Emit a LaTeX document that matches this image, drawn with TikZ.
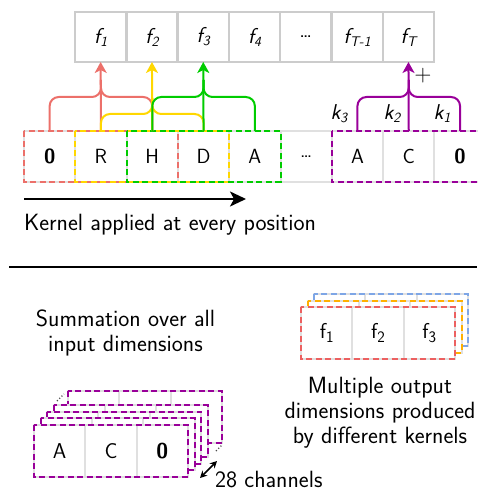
\documentclass[tikz,border=0pt]{standalone}
\usetikzlibrary{arrows.meta}
\definecolor{cred}{RGB}{236,112,106}
\definecolor{cyel}{RGB}{255,215,0}
\definecolor{cgrn}{RGB}{0,204,0}
\definecolor{cpur}{RGB}{153,0,153}
\definecolor{corg}{RGB}{255,176,0}
\definecolor{cblu}{RGB}{126,166,230}
\definecolor{bred}{RGB}{236,96,96}
\definecolor{cgray}{RGB}{224,224,224}
\definecolor{ogray}{RGB}{204,204,204}
\newcommand\fl[1]{\itshape f\raisebox{-3pt}{\fontsize{14}{14}\selectfont #1}}
\newcommand\kl[1]{\itshape k\raisebox{-3pt}{\fontsize{14}{14}\selectfont #1}}
\newcommand\fb[1]{f\raisebox{-4.5pt}{\fontsize{16}{16}\selectfont #1}}
\newcommand\layerbox[3]{%
  \fill[white] (#1,#2) rectangle ++(154,52);
  \draw[cgray,line width=2pt] (#1,#2) rectangle ++(154,52);
  \draw[cgray,line width=2pt] (#1+51.33,#2) -- ++(0,52) (#1+102.67,#2) -- ++(0,52);
  \draw[kbox,#3] (#1,#2) rectangle ++(154,52);}
\newcommand\kbrace[6]{%
  \draw[brace,#1] (#2.north) -- (#2.north |- #6) -- (#3.north |- #6) -- (#3.north |- #5);
  \draw[brace,#1] (#4.north) -- (#4.north |- #6) -- (#3.north |- #6) -- (#3.north |- #5);}
\begin{document}
\begin{tikzpicture}[x=1pt,y=-1pt,
  every node/.style={font=\fontsize{23.5}{24.5}\selectfont\sffamily, inner sep=0pt, outer sep=0pt},
  incell/.style={draw=cgray, line width=2pt, minimum width=51.3pt, minimum height=51pt, font=\fontsize{20.5}{22}\selectfont\sffamily},
  outcell/.style={draw=ogray, line width=2.5pt, minimum width=51.3pt, minimum height=50pt, font=\fontsize{21.5}{22}\selectfont\sffamily},
  bcell/.style={draw=cgray, fill=white, line width=2pt, minimum width=51.33pt, minimum height=52pt, font=\fontsize{21.5}{22}\selectfont\sffamily},
  kbox/.style={line width=2pt, dash pattern=on 6pt off 3.5pt},
  brace/.style={line width=2pt, rounded corners=9pt},
  uparrow/.style={line width=2pt, -{Stealth[length=11pt,width=12pt,inset=3pt]}},
  klab/.style={anchor=base, font=\fontsize{21.5}{22}\selectfont\sffamily},
]
\useasboundingbox (0,0) rectangle (477,492);
% heights
\coordinate (hA) at (0,97);
\coordinate (hAt) at (0,80);
\coordinate (hB) at (0,114);
\coordinate (hBt) at (0,98);
% output row
\node[outcell] (o1) at (100.65,37) {\fl{1}};
\node[outcell] (o2) at (151.95,37) {\fl{2}};
\node[outcell] (o3) at (203.25,37) {\fl{3}};
\node[outcell] (o4) at (254.55,37) {\fl{4}};
\node[outcell] (o5) at (305.85,37) {\ldots};
\node[outcell] (o6) at (357.15,37) {\fl{T-1}};
\node[outcell] (o7) at (408.45,37) {\fl{T}};
% input row
\node[incell] (i0) at (49.65,156.5) {\textbf{0}};
\node[incell] (i1) at (100.95,156.5) {R};
\node[incell] (i2) at (152.25,156.5) {H};
\node[incell] (i3) at (203.55,156.5) {D};
\node[incell] (i4) at (254.85,156.5) {A};
\node[incell] (i5) at (306.15,156.5) {\ldots};
\node[incell] (i6) at (357.45,156.5) {A};
\node[incell] (i7) at (408.75,156.5) {C};
\node[incell] (i8) at (460.05,156.5) {\textbf{0}};
% kernel windows
\draw[kbox,cred] (i0.north west) rectangle (i2.south east);
\draw[kbox,cyel] (i1.north west) rectangle (i3.south east);
\draw[kbox,cgrn] (i2.north west) rectangle (i4.south east);
\draw[kbox,cpur] (i6.north west) rectangle (i8.south east);
% braces and arrows
\kbrace{cred}{i0}{i1}{i2}{hAt}{hA}
\draw[uparrow,cred] (i1.north) -- (o1.south);
\kbrace{cyel}{i1}{i2}{i3}{hBt}{hB}
\draw[uparrow,cyel] (i2.north) -- (o2.south);
\kbrace{cgrn}{i2}{i3}{i4}{hAt}{hA}
\draw[uparrow,cgrn] (i3.north) -- (o3.south);
\kbrace{cpur}{i6}{i7}{i8}{hAt}{hA}
\draw[uparrow,cpur] (i7.north) -- (o7.south);
\node[klab] (k3) at (339,120) {\kl{3}};
\node[klab] (k2) at (392,120) {\kl{2}};
\node[klab] (k1) at (442,120) {\kl{1}};
\node (plus) at (423,76) {+};
% kernel arrow
\coordinate (ka) at (24,199);
\coordinate (kb) at (246,199);
\draw[line width=2pt, -{Stealth[length=16pt,width=15pt,inset=4pt]}] (ka) -- (kb);
\node[anchor=base west] (ktext) at (24,230) {Kernel applied at every position};
% separator
\coordinate (sa) at (9,267);
\coordinate (sb) at (477,267);
\draw[line width=2pt] (sa) -- (sb);
% summation text
\node[anchor=base, align=center] (sumtext) at (125.5,351) {Summation over all\\input dimensions};
% left stack
\layerbox{68}{391}{cpur}
\draw[line width=1.2pt, dotted, black!70] (57,401) -- (64,394);
\draw[line width=1.2pt, dotted, black!70] (216,451) -- (222,445);
\layerbox{53.5}{405}{cpur}
\layerbox{47}{411.7}{cpur}
\layerbox{40.5}{418.3}{cpur}
\node[bcell] (sA) at (59.67,451) {A};
\node[bcell] (sC) at (111,451) {C};
\node[bcell] (s0) at (162.33,451) {\textbf{0}};
\draw[kbox,cpur] (sA.north west) rectangle (s0.south east);
\coordinate (da) at (200,478);
\coordinate (db) at (217,461);
\draw[line width=1.6pt, {Stealth[length=7pt,width=7pt]}-{Stealth[length=7pt,width=7pt]}] (da) -- (db);
\node[anchor=base west] (chan) at (215,487) {28 channels};
% right stack
\layerbox{314}{294}{cblu}
\layerbox{307.5}{300.5}{corg}
\node[bcell] (r1) at (326.67,333) {\fb{1}};
\node[bcell] (r2) at (378,333) {\fb{2}};
\node[bcell] (r3) at (429.33,333) {\fb{3}};
\draw[kbox,bred] (r1.north west) rectangle (r3.south east);
\node[anchor=base, align=center, font=\fontsize{23.5}{25}\selectfont\sffamily] (multext) at (380,443) {Multiple output\\dimensions produced\\by different kernels};
\end{tikzpicture}
\end{document}
